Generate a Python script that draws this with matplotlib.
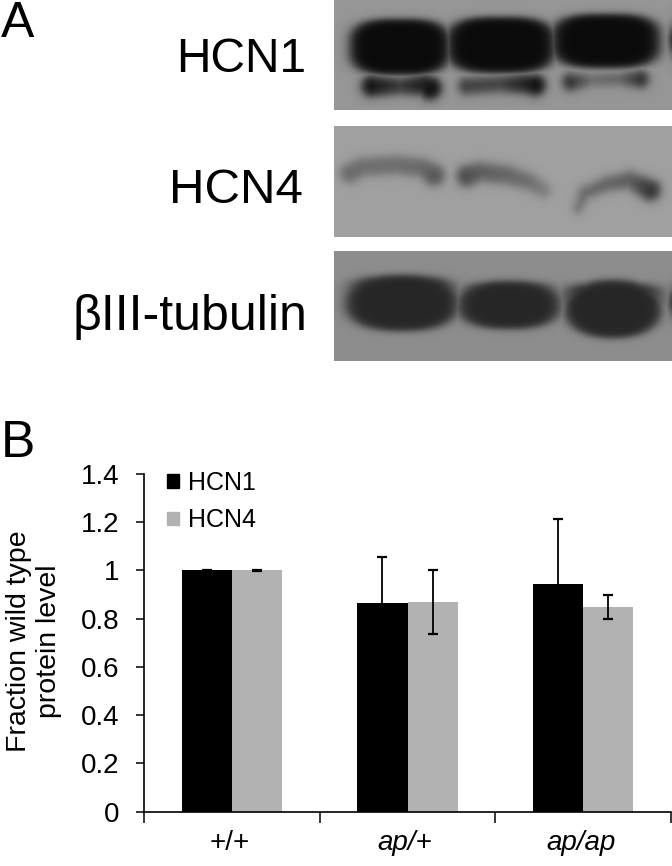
import numpy as np
import matplotlib
matplotlib.use("Agg")
import matplotlib.pyplot as plt
from matplotlib.patches import Patch

plt.rcParams['font.family'] = ['Liberation Sans', 'DejaVu Sans']

# ---- chart data ----
categories = ['+/+', 'ap/+', 'ap/ap']
hcn1_values = [1.0, 0.865, 0.945]
hcn4_values = [1.0, 0.87, 0.85]
hcn1_err = [0.003, 0.19, 0.27]
hcn4_err = [0.003, 0.132, 0.05]
y_ticks = [0, 0.2, 0.4, 0.6, 0.8, 1, 1.2, 1.4]
y_tick_labels = ['0', '0.2', '0.4', '0.6', '0.8', '1', '1.2', '1.4']
series_names = ['HCN1', 'HCN4']
series_colors = ['#000000', '#b2b2b2']
blot_names = ['HCN1', 'HCN4', 'βIII-tubulin']

# ---- blot panels: (top, bottom, background, dark level) in image pixels ----
panel_boxes = [(0, 110, 150, 10), (126, 237, 160, 40), (251, 361, 141, 38)]
# blobs: x, y, rx, ry, exponent, strength
blobs_hcn1 = [(400, 47, 50, 28, 3, 1), (501, 45, 54, 28, 3, 1), (606, 41, 54, 27, 3, 1),
              (673, 40, 4, 11, 2, 0.8)]
blobs_tub = [(402, 303, 56, 28, 2.4, 1), (402, 297, 53, 21, 3, 1),
             (509, 305, 51, 24, 2.4, 1), (509, 300, 47, 18, 3, 1),
             (613, 309, 48, 29, 2.2, 1), (613, 298, 47, 15, 3, 1),
             (673, 302, 4, 10, 2, 0.9)]
blobs_hcn4 = []
# strokes: list of (x, y, half thickness, strength)
strokes_hcn1 = [[(372, 86, 10, .92), (400, 86, 8, .68), (425, 85, 10, .88), (430, 88, 11, .95)],
                [(467, 86, 8, .62), (500, 84, 8, .6), (525, 84, 9, .85), (535, 85, 10, .95)],
                [(571, 82, 8, .7), (590, 80, 6, .32), (620, 79, 6, .38), (640, 79, 8, .72)]]
strokes_hcn4 = [[(350, 173, 9, .45), (363, 167, 9, .43), (397, 165, 9, .43), (423, 168, 9, .48), (434, 175, 10, .6)],
                [(467, 176, 10, .68), (480, 172, 9, .58), (507, 175, 9, .5), (530, 182, 8, .42), (543, 190, 7, .3)],
                [(578, 208, 4, .38), (585, 193, 6, .48), (607, 184, 7, .52), (630, 180, 8, .58), (650, 190, 10, .88)]]
strokes_tub = []
panel_blobs = [blobs_hcn1, blobs_hcn4, blobs_tub]
panel_strokes = [strokes_hcn1, strokes_hcn4, strokes_tub]
X_LEFT, X_RIGHT = 334, 672


def render_panel(box, blobs, strokes):
    top, bottom, bg, dark = box
    xs = np.arange(X_LEFT, X_RIGHT) + 0.5
    ys = np.arange(top, bottom) + 0.5
    gx, gy = np.meshgrid(xs, ys)
    alpha = np.zeros_like(gx)

    def stamp(x, y, rx, ry, p, s, soft=2.0):
        r = (np.abs((gx - x) / rx) ** p + np.abs((gy - y) / ry) ** p) ** (1 / p)
        edge = soft / min(rx, ry)
        return s / (1 + np.exp(np.clip((r - 1) / edge, -40, 40)))

    for b in blobs:
        alpha = np.maximum(alpha, stamp(*b))
    for st in strokes:
        st = np.array(st)
        for i in range(len(st) - 1):
            for t in np.linspace(0, 1, 24):
                x, y, r, s = st[i] + (st[i + 1] - st[i]) * t
                alpha = np.maximum(alpha, stamp(x, y, r, r, 2, s, soft=2.8))
    img = bg + (dark - bg) * alpha
    return np.clip(img, 0, 255)


fig = plt.figure(figsize=(6.72, 8.66), dpi=100, facecolor='white')
W, H = 672, 866

# pixel-space overlay for blots and big labels
canvas = fig.add_axes([0, 0, 1, 1])
canvas.set_xlim(0, W)
canvas.set_ylim(H, 0)
canvas.axis('off')
for box, bl, st in zip(panel_boxes, panel_blobs, panel_strokes):
    canvas.imshow(render_panel(box, bl, st), cmap='gray', vmin=0, vmax=255,
                  extent=(X_LEFT, X_RIGHT, box[1], box[0]), aspect='auto',
                  interpolation='bilinear')
canvas.set_xlim(0, W)
canvas.set_ylim(H, 0)

canvas.text(1, 37, 'A', fontsize=36, ha='left', va='baseline')
canvas.text(1, 457, 'B', fontsize=37, ha='left', va='baseline')
canvas.text(306, 72, blot_names[0], fontsize=34.5, ha='right', va='baseline')
canvas.text(303, 203, blot_names[1], fontsize=35.5, ha='right', va='baseline')
canvas.text(307, 330, blot_names[2], fontsize=36, ha='right', va='baseline')

# bar chart
L, R, T, B = 144, 671, 474, 811.5
ax = fig.add_axes([L / W, 1 - B / H, (R - L) / W, (B - T) / H])
ax.patch.set_alpha(0)
x = np.arange(len(categories)) + 0.5
bw = 0.2855
err_kw = dict(ecolor='black', elinewidth=1.3, capsize=3.6, capthick=1.6)
ax.bar(x - bw / 2, hcn1_values, bw, color=series_colors[0], yerr=hcn1_err, error_kw=err_kw)
ax.bar(x + bw / 2, hcn4_values, bw, color=series_colors[1], yerr=hcn4_err, error_kw=err_kw)
ax.set_xlim(0, 3)
ax.set_ylim(0, 1.4)
ax.set_yticks(y_ticks)
ax.set_yticklabels(y_tick_labels, fontsize=20)
ax.set_xticks([0, 1, 2, 3])
ax.set_xticklabels([])
ax.set_xticks(x - 0.013, minor=True)
ax.set_xticklabels(categories, minor=True, fontsize=20, style='italic')
ax.get_xticklabels(minor=True)[0].set_style('normal')
ax.tick_params(axis='x', which='minor', length=0, pad=13)
ax.tick_params(axis='x', which='major', length=8, width=1.1)
ax.tick_params(axis='y', length=6, width=1.1, pad=11.5)
for s in ['top', 'right']:
    ax.spines[s].set_visible(False)
for s in ['left', 'bottom']:
    ax.spines[s].set_linewidth(1.2)

handles = [Patch(color=c, label=n) for c, n in zip(series_colors, series_names)]
ax.legend(handles=handles, loc='upper left', bbox_to_anchor=(0.044, 1.01), frameon=False,
          fontsize=18, handlelength=0.48, handleheight=0.48, handletextpad=0.36,
          labelspacing=0.55, borderpad=0, borderaxespad=0)

canvas.text(34, 641, 'Fraction wild type\nprotein level', rotation=90, fontsize=20.5,
            ha='center', va='center', multialignment='center', linespacing=1.2)

fig.savefig('out.png', dpi=100, facecolor='white')
